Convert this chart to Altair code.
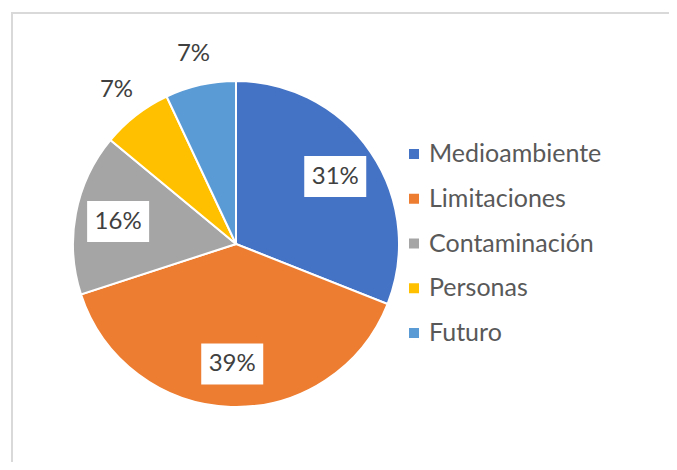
import altair as alt
import pandas as pd

categories = ["Medioambiente", "Limitaciones", "Contaminación", "Personas", "Futuro"]
values = [31, 39, 16, 7, 7]
colors = ["#4472C4", "#ED7D31", "#A5A5A5", "#FFC000", "#5B9BD5"]

df = pd.DataFrame({"category": categories, "value": values, "idx": list(range(len(categories)))})

W, H = 661, 454
CX, CY, R = 228, 236, 163
FONT = "Lato"

color = alt.Color("category:N", scale=alt.Scale(domain=categories, range=colors), legend=None)
xs = alt.Scale(domain=[0, W], range=[0, W])
ys = alt.Scale(domain=[0, H], range=[0, H])

base = alt.Chart(df)

frame = alt.Chart(pd.DataFrame({"a": [0]})).mark_rect(
    fill="white", stroke="#D9D9D9", strokeWidth=2
).encode(x=alt.value(4), y=alt.value(5), x2=alt.value(760), y2=alt.value(560))

pie = base.mark_arc(radius=R, stroke="white", strokeWidth=2).encode(
    theta=alt.Theta("value:Q", stack=True),
    order=alt.Order("idx:Q"),
    color=color,
    x=alt.value(CX),
    y=alt.value(CY),
)

lab = base.transform_joinaggregate(total="sum(value)").transform_window(
    cum="sum(value)", sort=[alt.SortField("idx")], frame=[None, 0]
).transform_calculate(
    mid="(datum.cum - datum.value/2)/datum.total*2*PI",
    r="datum.value >= 10 ? 120 : 195",
    inside="datum.value >= 10",
    label="format(datum.value/datum.total, '.0%')",
).transform_calculate(
    lx=f"{CX} + datum.r*sin(datum.mid)",
    ly=f"{CY} - datum.r*cos(datum.mid)",
).transform_calculate(
    bx1="datum.lx - 31", bx2="datum.lx + 31", by1="datum.ly - 20.5", by2="datum.ly + 20.5"
)

boxes = lab.transform_filter("datum.inside").mark_rect(fill="white").encode(
    x=alt.X("bx1:Q", scale=xs, axis=None),
    x2="bx2:Q",
    y=alt.Y("by1:Q", scale=ys, axis=None),
    y2="by2:Q",
)

texts = lab.mark_text(font=FONT, fontSize=24, color="#404040", baseline="middle", align="center").encode(
    x=alt.X("lx:Q", scale=xs, axis=None),
    y=alt.Y("ly:Q", scale=ys, axis=None),
    text="label:N",
)

leg = base.transform_calculate(ly="146 + datum.idx*44.75")
leg_sym = leg.mark_square(size=100, opacity=1).encode(
    x=alt.value(406),
    y=alt.Y("ly:Q", scale=ys, axis=None),
    color=color,
)
leg_txt = leg.mark_text(font=FONT, fontSize=25, color="#595959", align="left", baseline="middle").encode(
    x=alt.value(421),
    y=alt.Y("ly:Q", scale=ys, axis=None),
    text="category:N",
)

chart = alt.layer(frame, pie, boxes, texts, leg_sym, leg_txt).properties(
    width=W, height=H, padding=0, autosize="none"
).configure_view(stroke=None)

chart.save("out.html", embed_options={"renderer": "svg", "actions": False})
